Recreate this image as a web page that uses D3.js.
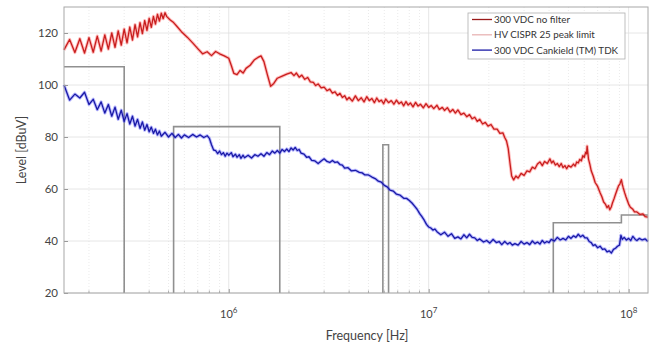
<!DOCTYPE html>
<html><head><meta charset="utf-8">
<script src="https://cdn.jsdelivr.net/npm/d3@7"></script>
<style>body{margin:0;background:#fff}svg{display:block}text{font-family:Lato,"Open Sans",sans-serif}</style>
</head><body>
<script>
// ---------- data (frequency in MHz, level in dBuV) ----------
const xDomainHz = [1.5e5, 1.25e8];
const yDomain = [20, 130];
const yTicks = [20, 40, 60, 80, 100, 120];
const xTickExponents = [6, 7, 8];
const seriesNames = ["300 VDC no filter", "HV CISPR 25 peak limit", "300 VDC Cankield (TM) TDK"];

const redPoints = [
[0.150,113.5],[0.160,117.5],[0.170,112.5],[0.180,117.8],[0.190,112.3],[0.200,118.2],[0.210,112.6],[0.220,118.8],
[0.230,113.0],[0.240,119.3],[0.250,113.8],[0.260,120.0],[0.270,114.5],[0.280,120.8],[0.290,115.3],[0.300,121.5],
[0.310,116.2],[0.320,122.3],[0.330,117.3],[0.340,123.2],[0.350,118.5],[0.360,124.0],[0.370,119.8],[0.380,124.8],
[0.390,121.0],[0.400,125.6],[0.410,122.2],[0.420,126.4],[0.430,123.4],[0.440,127.2],[0.450,124.6],[0.460,127.6],
[0.470,125.5],[0.480,127.8],[0.490,126.3],[0.510,125.0],[0.530,124.0],[0.550,122.6],[0.580,120.5],[0.620,118.4],
[0.660,116.2],[0.700,114.0],[0.740,112.0],[0.780,112.8],[0.820,111.3],[0.860,112.9],[0.900,112.0],[0.950,111.2],
[1.00,110.3],[1.03,107.5],[1.06,104.5],[1.10,104.0],[1.14,105.6],[1.18,104.6],[1.22,106.4],[1.28,107.6],
[1.34,109.6],[1.40,110.6],[1.45,111.2],[1.50,109.0],[1.56,104.0],[1.62,99.5],[1.68,100.6],[1.75,102.6],
[1.85,103.4],[1.95,104.2],[2.05,104.8],[2.12,103.6],[2.18,104.6],[2.25,103.0],[2.32,103.8],[2.40,102.2],
[2.48,102.9],[2.56,101.2],[2.65,101.0],[2.72,99.8],[2.80,100.4],[2.90,98.9],[3.00,99.2],[3.10,97.8],
[3.20,98.4],[3.30,96.9],[3.40,97.4],[3.50,96.0],[3.60,96.8],[3.70,95.2],[3.80,95.9],[3.90,94.3],
[4.00,95.2],[4.15,93.8],[4.30,95.8],[4.45,94.0],[4.60,95.1],[4.75,93.5],[4.90,95.5],[5.05,94.0],
[5.20,94.8],[5.35,93.2],[5.50,95.0],[5.65,93.6],[5.80,94.2],[5.95,92.8],[6.10,94.6],[6.30,93.2],
[6.50,94.0],[6.70,92.6],[6.90,94.2],[7.10,92.8],[7.30,93.5],[7.50,92.0],[7.70,93.6],[7.90,92.3],
[8.10,93.1],[8.35,91.6],[8.60,93.3],[8.85,91.9],[9.10,92.6],[9.40,91.2],[9.70,92.8],[10.0,91.4],
[10.3,92.1],[10.6,90.9],[11.0,92.2],[11.3,90.6],[11.7,91.4],[12.0,90.2],[12.4,91.3],[12.8,89.6],
[13.2,90.6],[13.6,89.2],[14.0,90.4],[14.5,88.6],[15.0,89.2],[15.5,87.8],[16.0,88.6],[16.5,87.0],
[17.0,87.6],[17.5,86.0],[18.0,86.8],[18.6,85.0],[19.2,85.6],[19.8,84.2],[20.5,84.8],[21.2,83.0],
[22.0,83.0],[22.7,81.4],[23.5,81.6],[24.0,79.8],[24.5,78.5],[25.0,75.5],[25.5,70.0],[26.0,65.0],
[26.6,63.5],[27.3,65.0],[28.0,64.2],[29.0,66.0],[30.0,65.2],[31.0,67.0],[32.0,66.6],[33.0,68.4],
[34.0,67.8],[35.0,69.6],[36.0,70.4],[37.0,69.0],[38.0,70.6],[39.2,69.8],[40.4,71.6],[41.2,70.0],
[42.0,70.8],[43.0,69.2],[44.0,69.8],[45.0,68.6],[46.0,69.8],[47.0,68.2],[48.0,69.0],[49.0,67.8],
[50.0,69.0],[51.5,68.4],[53.0,69.6],[54.0,68.8],[55.0,70.4],[56.0,70.0],[57.0,71.4],[58.0,70.8],
[59.0,72.8],[60.0,72.2],[61.0,74.2],[61.6,73.5],[62.0,76.5],[62.5,74.0],[63.0,71.5],[64.0,69.5],
[65.0,67.0],[66.5,65.0],[68.0,62.5],[70.0,61.0],[72.0,58.6],[73.5,57.0],[75.0,55.0],[76.5,54.2],
[78.0,52.8],[79.3,53.6],[80.5,52.0],[82.0,53.2],[83.0,54.6],[84.5,56.2],[86.0,58.0],[87.5,59.6],
[89.0,61.2],[90.5,62.0],[92.0,63.6],[93.0,61.8],[94.0,60.4],[95.5,58.6],[97.0,57.0],[98.5,55.6],
[100,54.2],[102,53.0],[105,52.2],[107,51.2],[110,51.2],[114,50.2],[118,50.4],[121,49.4],[125,49.2]
];

const bluePoints = [
[0.150,100.0],[0.160,94.2],[0.170,96.5],[0.180,95.0],[0.190,97.2],[0.200,92.5],[0.210,94.5],[0.220,90.5],
[0.230,93.5],[0.240,89.2],[0.250,92.5],[0.260,88.0],[0.270,91.5],[0.280,86.8],[0.290,90.3],[0.300,86.0],
[0.310,89.0],[0.320,85.0],[0.330,88.0],[0.340,84.2],[0.350,86.8],[0.360,83.3],[0.370,85.8],[0.380,82.6],
[0.390,84.8],[0.400,82.0],[0.410,83.8],[0.420,81.4],[0.430,83.0],[0.440,80.8],[0.450,82.3],[0.460,80.3],
[0.480,81.8],[0.500,80.0],[0.520,81.4],[0.540,79.8],[0.560,81.0],[0.580,79.6],[0.600,80.8],[0.630,79.8],
[0.660,81.0],[0.690,80.0],[0.720,80.8],[0.750,79.8],[0.780,80.5],[0.800,79.5],[0.820,77.0],[0.840,75.0],
[0.860,74.8],[0.880,73.6],[0.900,74.6],[0.920,73.2],[0.940,74.0],[0.960,72.6],[0.980,73.8],[1.00,73.0],
[1.03,74.0],[1.05,72.4],[1.08,73.4],[1.10,72.2],[1.13,73.2],[1.15,71.8],[1.18,73.0],[1.20,72.0],
[1.25,73.0],[1.30,71.9],[1.35,73.2],[1.40,72.6],[1.45,73.6],[1.50,72.6],[1.55,74.0],[1.60,73.2],
[1.65,74.6],[1.70,73.8],[1.75,74.8],[1.80,73.8],[1.85,75.2],[1.90,74.4],[1.95,75.4],[2.00,74.4],
[2.05,75.8],[2.10,75.0],[2.15,76.0],[2.20,74.8],[2.25,75.2],[2.30,73.8],[2.38,73.4],[2.45,72.2],
[2.52,72.4],[2.60,71.0],[2.70,70.8],[2.80,69.8],[2.90,70.8],[3.00,71.6],[3.10,70.6],[3.20,70.2],
[3.30,71.0],[3.40,70.2],[3.50,70.4],[3.60,69.4],[3.70,69.2],[3.80,68.0],[3.95,68.2],[4.10,67.0],
[4.30,67.2],[4.50,66.4],[4.65,66.2],[4.80,65.4],[5.00,65.4],[5.20,64.6],[5.40,64.0],[5.60,63.0],
[5.80,62.6],[6.00,61.4],[6.20,60.8],[6.40,59.6],[6.65,59.2],[6.90,58.0],[7.20,57.6],[7.50,56.4],
[7.75,56.4],[8.00,55.6],[8.25,54.6],[8.50,53.4],[8.75,52.2],[9.00,50.6],[9.25,49.4],[9.50,48.0],
[9.75,46.4],[10.0,45.4],[10.25,45.0],[10.5,44.2],[10.75,44.6],[11.0,43.6],[11.5,42.4],[12.0,43.4],
[12.5,41.8],[13.0,42.8],[13.5,41.0],[14.0,41.6],[14.5,40.8],[15.0,42.4],[15.5,41.2],[16.0,42.6],
[16.5,41.4],[17.0,41.2],[17.5,40.2],[18.0,40.8],[18.8,39.6],[19.5,40.2],[20.2,39.2],[21.0,40.6],
[21.8,39.4],[22.5,39.8],[23.2,38.6],[24.0,39.8],[24.8,38.8],[25.5,39.4],[26.2,38.4],[27.0,39.0],
[28.0,38.4],[29.0,39.8],[30.0,38.8],[31.0,39.4],[32.0,38.6],[33.0,40.0],[34.0,39.0],[35.0,39.6],
[36.0,38.8],[37.0,40.2],[38.0,39.2],[39.0,39.8],[40.0,39.4],[41.0,40.6],[42.5,40.0],[44.0,41.4],
[45.5,40.4],[47.0,41.0],[48.5,40.4],[50.0,41.8],[51.5,41.0],[53.0,42.0],[54.5,41.4],[56.0,42.6],
[57.5,41.6],[59.0,42.2],[60.5,41.2],[62.0,41.2],[63.5,39.8],[65.0,39.4],[66.5,38.2],[68.0,38.6],
[70.0,37.4],[72.0,38.0],[74.0,36.8],[76.0,37.0],[78.0,35.8],[80.0,36.2],[82.0,35.4],[84.0,36.8],
[86.0,37.2],[88.0,38.0],[90.0,38.4],[91.5,42.2],[93.0,40.6],[95.0,41.4],[97.5,40.4],[100,41.0],
[102.5,40.2],[105,41.8],[108,40.6],[110,40.2],[113,41.0],[117,40.4],[121,40.8],[125,39.8]
];

// CISPR 25 limit outline (null = break)
const limitFreqMHz = [0.150,0.300,0.300,null,0.530,0.530,1.80,1.80,null,5.90,5.90,6.30,6.30,null,42.0,42.0,92.0,92.0,125];
const limitLevel   = [107,107,20,null,20,84,84,20,null,20,77,77,20,null,20,47,47,50,50];

// ---------- drawing ----------
const W = 656, H = 347;
const m = {l:64, r:648, t:7, b:293};
const svg = d3.select("body").append("svg").attr("width", W).attr("height", H);

const x = d3.scaleLog().domain(xDomainHz).range([m.l, m.r]);
const y = d3.scaleLinear().domain(yDomain).range([m.b, m.t]);

// minor grid
const minorX = x.ticks().filter(v => !xTickExponents.some(e => Math.abs(v - Math.pow(10, e)) < 1));
svg.append("g").selectAll("line").data(minorX).join("line")
  .attr("x1", d => x(d)).attr("x2", d => x(d)).attr("y1", m.t).attr("y2", m.b)
  .attr("stroke", "#e4e4e4").attr("stroke-width", 0.8).attr("stroke-dasharray", "1,2");
// major grid
svg.append("g").selectAll("line").data(xTickExponents).join("line")
  .attr("x1", d => x(Math.pow(10, d))).attr("x2", d => x(Math.pow(10, d))).attr("y1", m.t).attr("y2", m.b)
  .attr("stroke", "#e0e0e0").attr("stroke-width", 0.8);
svg.append("g").selectAll("line").data(yTicks).join("line")
  .attr("x1", m.l).attr("x2", m.r).attr("y1", d => y(d)).attr("y2", d => y(d))
  .attr("stroke", "#e0e0e0").attr("stroke-width", 0.8);

// limit
const hz = v => v * 1e6;
const limitData = limitFreqMHz.map((f, i) => ({f, v: limitLevel[i]}));
const limitLine = d3.line().defined(d => d.f !== null).x(d => x(hz(d.f))).y(d => y(d.v));
svg.append("path").attr("d", limitLine(limitData)).attr("fill", "none")
  .attr("stroke", "#909090").attr("stroke-width", 1.6);

// series
const line = d3.line().x(d => x(hz(d[0]))).y(d => y(d[1]));
function drawSeries(pts, halo, core) {
  svg.append("path").attr("d", line(pts)).attr("fill", "none").attr("stroke", halo)
    .attr("stroke-width", 3.2).attr("stroke-opacity", 0.35).attr("stroke-linejoin", "round");
  svg.append("path").attr("d", line(pts)).attr("fill", "none").attr("stroke", core)
    .attr("stroke-width", 1.3).attr("stroke-linejoin", "round");
}
drawSeries(redPoints, "#ff4040", "#c81e1e");
drawSeries(bluePoints, "#3a3aff", "#1a1aa6");

// axes
const gy = svg.append("g").attr("transform", `translate(${m.l},0)`)
  .call(d3.axisLeft(y).tickValues(yTicks).tickSize(-4).tickPadding(6));
const gx = svg.append("g").attr("transform", `translate(0,${m.b})`)
  .call(d3.axisBottom(x).tickValues(xTickExponents.map(e => Math.pow(10, e))).tickSize(-4).tickFormat(""));
[gy, gx].forEach(g => { g.select(".domain").remove(); g.selectAll("line").attr("stroke", "#999"); });
gy.selectAll("text").attr("font-size", 11.5).attr("fill", "#444");
// minor x ticks
svg.append("g").selectAll("line").data(minorX).join("line")
  .attr("x1", d => x(d)).attr("x2", d => x(d)).attr("y1", m.b).attr("y2", m.b - 2.5)
  .attr("stroke", "#999").attr("stroke-width", 0.8);
// x tick labels with superscript
const xl = svg.append("g").selectAll("text").data(xTickExponents).join("text")
  .attr("x", d => x(Math.pow(10, d))).attr("y", 318).attr("text-anchor", "middle")
  .attr("font-size", 11).attr("fill", "#444");
xl.append("tspan").text("10");
xl.append("tspan").attr("dy", -5).attr("font-size", 8).text(d => d);

// frame
svg.append("rect").attr("x", m.l).attr("y", m.t).attr("width", m.r - m.l).attr("height", m.b - m.t)
  .attr("fill", "none").attr("stroke", "#a8a8a8").attr("stroke-width", 1);

// axis titles
svg.append("text").attr("x", 367).attr("y", 340).attr("text-anchor", "middle")
  .attr("font-size", 12.5).attr("fill", "#444").text("Frequency [Hz]");
svg.append("text").attr("transform", `translate(26,${(m.t + m.b) / 2}) rotate(-90)`)
  .attr("text-anchor", "middle").attr("font-size", 12.5).attr("fill", "#444").text("Level [dBuV]");

// legend
const lg = svg.append("g");
lg.append("rect").attr("x", 468).attr("y", 13).attr("width", 157).attr("height", 46)
  .attr("fill", "#fff").attr("stroke", "#b0b0b0").attr("stroke-width", 0.8);
const legendColors = ["#9a1a1a", "#e8b4b4", "#1a1aa6"];
seriesNames.forEach((name, i) => {
  const cy = 19.5 + i * 15.3;
  lg.append("line").attr("x1", 472).attr("x2", 492).attr("y1", cy).attr("y2", cy)
    .attr("stroke", legendColors[i]).attr("stroke-width", 1.3);
  lg.append("text").attr("x", 494).attr("y", cy + 3.5).attr("font-size", 9.8)
    .attr("fill", "#333").text(name);
});
</script>
</body></html>
